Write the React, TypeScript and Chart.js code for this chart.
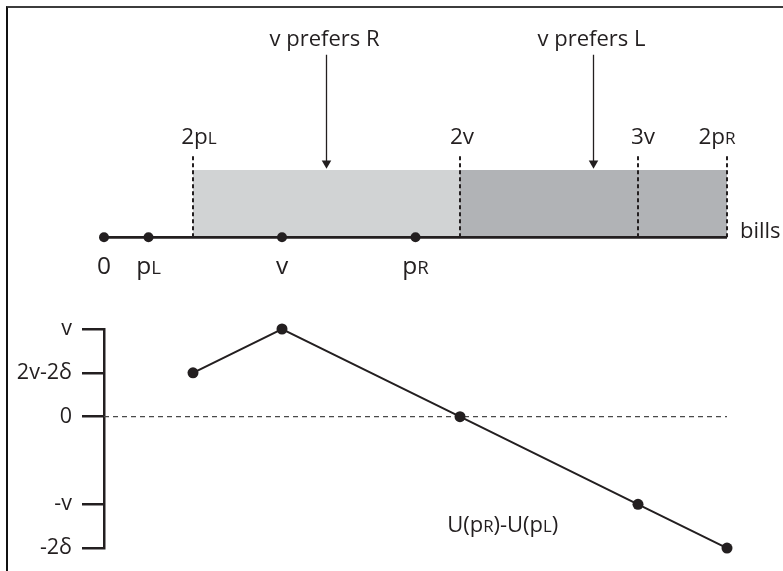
import React, { useEffect, useRef } from "react";
import { Chart, registerables } from "chart.js";

Chart.register(...registerables);

// ---------- data (values in units of v) ----------
const LINE_POINTS = [0, 0.25, 1, 1.75];
const LINE_POINT_LABELS = ["0", "p_L", "v", "p_R"];
const LINE_END = 3.5;
const DASH_X = [0.5, 2, 3, 3.5];
const DASH_LABELS = ["2p_L", "2v", "3v", "2p_R"];
const DASH_TOP = 1.24;
const REGION_R = [0.5, 2];
const REGION_L = [2, 3.5];
const REGION_TOP = 1;
const ARROW_X = [1.25, 2.75];
const ARROW_LABELS = ["v prefers R", "v prefers L"];
const ARROW_TOP = 2.71;
const ARROW_TIP = 1.1;

const U_X = [0.5, 1, 2, 3, 3.5];
const U_Y = [0.5, 1, 0, -1, -1.5];
const Y_TICKS = [-1.5, -1, 0, 0.5, 1];
const Y_TICK_LABELS = ["-2δ", "-v", "0", "2v-2δ", "v"];
const U_LABEL = "U(p_R)-U(p_L)";

// ---------- style ----------
const INK = "#231f20";
const FONT = "'Open Sans'";
const LIGHT = "#d1d3d4";
const DARK = "#b1b3b6";
const DASH_LABEL_DX = [6, 2, 5, -10];

function drawRich(
  ctx: CanvasRenderingContext2D,
  text: string,
  x: number,
  y: number,
  size: number,
  align: "left" | "center" | "right"
) {
  const segs: { t: string; small: boolean }[] = [];
  let i = 0;
  while (i < text.length) {
    if (text[i] === "_") {
      segs.push({ t: text[i + 1], small: true });
      i += 2;
    } else {
      let j = i;
      while (j < text.length && text[j] !== "_") j++;
      segs.push({ t: text.slice(i, j), small: false });
      i = j;
    }
  }
  const f = (s: boolean) => `${s ? size * 0.76 : size}px ${FONT}`;
  let total = 0;
  const widths = segs.map((s) => {
    ctx.font = f(s.small);
    const w = ctx.measureText(s.t).width;
    total += w;
    return w;
  });
  let cx = align === "center" ? x - total / 2 : align === "right" ? x - total : x;
  ctx.save();
  ctx.fillStyle = INK;
  ctx.textAlign = "left";
  ctx.textBaseline = "alphabetic";
  segs.forEach((s, k) => {
    ctx.font = f(s.small);
    ctx.fillText(s.t, cx, y);
    cx += widths[k];
  });
  ctx.restore();
}

const X_MIN = 0;
const X_MAX = 3.75;
const PAD_LEFT = 104;
const PAD_RIGHT = 11.5;

function TopChart() {
  const ref = useRef<HTMLCanvasElement>(null);
  useEffect(() => {
    if (!ref.current) return;
    const datasets: any[] = [];
    datasets.push({
      data: [
        { x: REGION_R[0], y: REGION_TOP },
        { x: REGION_R[1], y: REGION_TOP },
      ],
      fill: { value: 0 },
      backgroundColor: LIGHT,
      borderColor: "rgba(0,0,0,0)",
      borderWidth: 0,
      pointRadius: 0,
      order: 10,
    });
    datasets.push({
      data: [
        { x: REGION_L[0], y: REGION_TOP },
        { x: REGION_L[1], y: REGION_TOP },
      ],
      fill: { value: 0 },
      backgroundColor: DARK,
      borderColor: "rgba(0,0,0,0)",
      borderWidth: 0,
      pointRadius: 0,
      order: 10,
    });
    DASH_X.forEach((x) =>
      datasets.push({
        data: [
          { x, y: 0 },
          { x, y: DASH_TOP },
        ],
        borderColor: INK,
        borderWidth: 2,
        borderDash: [4, 3],
        pointRadius: 0,
        fill: false,
        clip: false,
        order: 5,
      })
    );
    datasets.push({
      data: [
        { x: 0, y: 0 },
        { x: LINE_END, y: 0 },
      ],
      borderColor: INK,
      borderWidth: 2.8,
      pointRadius: 0,
      fill: false,
      clip: false,
      order: 2,
    });
    datasets.push({
      data: LINE_POINTS.map((x) => ({ x, y: 0 })),
      showLine: false,
      pointRadius: 5,
      pointBackgroundColor: INK,
      pointBorderColor: INK,
      pointBorderWidth: 0,
      fill: false,
      clip: false,
      order: 1,
    });
    ARROW_X.forEach((x) =>
      datasets.push({
        data: [
          { x, y: ARROW_TOP },
          { x, y: ARROW_TIP },
        ],
        borderColor: INK,
        borderWidth: 1.3,
        pointRadius: [0, 5.5],
        pointStyle: "triangle",
        rotation: 180,
        pointBackgroundColor: INK,
        pointBorderColor: INK,
        pointBorderWidth: 0,
        fill: false,
        order: 1,
      })
    );

    const labels = {
      id: "topLabels",
      afterDatasetsDraw(chart: any) {
        const ctx = chart.ctx;
        const xs = chart.scales.x;
        const ys = chart.scales.y;
        ARROW_X.forEach((x, i) =>
          drawRich(ctx, ARROW_LABELS[i], xs.getPixelForValue(x) - 2, ys.getPixelForValue(ARROW_TOP) - 9, 22, "center")
        );
        DASH_X.forEach((x, i) =>
          drawRich(ctx, DASH_LABELS[i], xs.getPixelForValue(x) + DASH_LABEL_DX[i], ys.getPixelForValue(DASH_TOP) - 10, 22.5, "center")
        );
        LINE_POINTS.forEach((x, i) =>
          drawRich(ctx, LINE_POINT_LABELS[i], xs.getPixelForValue(x), ys.getPixelForValue(0) + 37, 24.5, "center")
        );
        drawRich(ctx, "bills", xs.getPixelForValue(LINE_END) + 13, ys.getPixelForValue(0) + 1, 22, "left");
      },
    };

    const chart = new Chart(ref.current, {
      type: "line",
      data: { datasets },
      options: {
        animation: false,
        responsive: true,
        maintainAspectRatio: false,
        layout: { padding: { left: PAD_LEFT, right: PAD_RIGHT, top: 0, bottom: 0 } },
        plugins: { legend: { display: false }, tooltip: { enabled: false } },
        events: [],
        scales: {
          x: { type: "linear", display: false, min: X_MIN, max: X_MAX },
          y: { type: "linear", display: false, min: -0.7, max: 3.44 },
        },
      } as any,
      plugins: [labels],
    });
    return () => chart.destroy();
  }, []);
  return (
    <div style={{ position: "absolute", left: 0, top: 0, width: 783, height: 290 }}>
      <canvas ref={ref} />
    </div>
  );
}

function BottomChart() {
  const ref = useRef<HTMLCanvasElement>(null);
  useEffect(() => {
    if (!ref.current) return;
    const datasets: any[] = [
      {
        data: [
          { x: 0, y: 0 },
          { x: LINE_END, y: 0 },
        ],
        borderColor: "#4a4a4a",
        borderWidth: 1.2,
        borderDash: [5, 4],
        pointRadius: 0,
        fill: false,
        order: 5,
      },
      {
        data: U_X.map((x, i) => ({ x, y: U_Y[i] })),
        borderColor: INK,
        borderWidth: 2,
        pointRadius: 5.5,
        pointBackgroundColor: INK,
        pointBorderColor: INK,
        pointBorderWidth: 0,
        fill: false,
        clip: false,
        order: 1,
      },
    ];
    const labels = {
      id: "bottomLabels",
      afterDatasetsDraw(chart: any) {
        const xs = chart.scales.x;
        const ys = chart.scales.y;
        drawRich(chart.ctx, U_LABEL, xs.getPixelForValue(2.24), ys.getPixelForValue(-1.32), 22, "center");
      },
    };
    const chart = new Chart(ref.current, {
      type: "line",
      data: { datasets },
      options: {
        animation: false,
        responsive: true,
        maintainAspectRatio: false,
        layout: { padding: { left: 0, right: PAD_RIGHT, top: 39, bottom: 20 } },
        plugins: { legend: { display: false }, tooltip: { enabled: false } },
        events: [],
        scales: {
          x: { type: "linear", display: false, min: X_MIN, max: X_MAX },
          y: {
            type: "linear",
            position: "left",
            min: -1.5,
            max: 1,
            afterBuildTicks: (scale: any) => {
              scale.ticks = Y_TICKS.map((v) => ({ value: v }));
            },
            afterFit: (scale: any) => {
              scale.width = PAD_LEFT;
            },
            grid: {
              display: true,
              drawOnChartArea: false,
              drawTicks: true,
              tickLength: 22,
              color: INK,
              lineWidth: 2.5,
            },
            border: { display: true, color: INK, width: 2.5 },
            ticks: {
              autoSkip: false,
              padding: 10,
              color: INK,
              font: { family: "Open Sans", size: 21.5 },
              callback: (value: number) => {
                const k = Y_TICKS.indexOf(value);
                return k >= 0 ? Y_TICK_LABELS[k] : "";
              },
            },
          },
        },
      } as any,
      plugins: [labels],
    });
    return () => chart.destroy();
  }, []);
  return (
    <div style={{ position: "absolute", left: 0, top: 290, width: 783, height: 281 }}>
      <canvas ref={ref} />
    </div>
  );
}

export default function App() {
  return (
    <div
      style={{
        position: "fixed",
        left: 0,
        top: 0,
        width: 783,
        height: 571,
        overflow: "hidden",
        background: "#ffffff",
      }}
    >
      <TopChart />
      <BottomChart />
      <div
        style={{
          position: "absolute",
          left: 6,
          top: 6,
          width: 800,
          height: 600,
          borderTop: "2px solid #3c3c3c",
          borderLeft: "2px solid #111111",
          pointerEvents: "none",
        }}
      />
    </div>
  );
}
